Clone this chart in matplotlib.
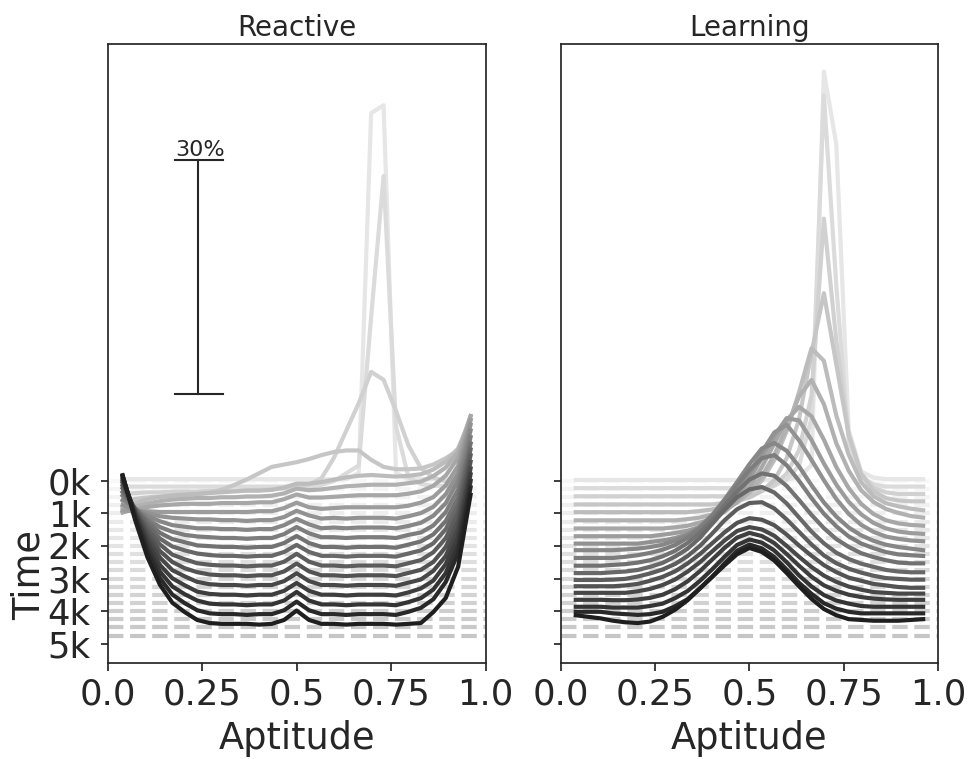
import numpy as np
import matplotlib as mpl
mpl.use('Agg')
import matplotlib.pyplot as plt

# aptitude bin centres and recorded time steps
aptitude = np.linspace(0.04, 0.96, 29)
steps = np.arange(0, 5000, 250)

# share of population (%) per aptitude bin, one row per time step
reactive_pct = [
    [0.2, 0.2, 0.2, 0.2, 0.2, 0.2, 0.2, 0.2, 0.2, 0.2, 0.2, 0.2, 0.2, 0.2, 0.2, 0.2, 0.2, 0.2, 0.2, 1.0, 47.0, 48.0, 1.0, 0.2, 0.2, 0.2, 0.2, 0.2, 0.2],
    [0.3, 0.3, 0.3, 0.3, 0.3, 0.3, 0.3, 0.3, 0.3, 0.3, 0.3, 0.3, 0.3, 0.3, 0.3, 0.3, 0.5, 1.0, 2.0, 3.0, 22.0, 40.0, 8.0, 1.5, 0.6, 0.4, 0.4, 0.4, 0.4],
    [0.4, 0.5, 0.6, 0.6, 0.7, 0.7, 0.7, 0.8, 0.8, 0.8, 0.9, 0.9, 1.0, 1.1, 1.3, 1.6, 2.4, 5.0, 8.5, 12.0, 16.0, 15.0, 11.0, 6.6, 3.7, 2.5, 2.0, 2.0, 2.0],
    [0.5, 0.8, 1.0, 1.1, 1.2, 1.3, 1.4, 1.6, 2.0, 2.6, 3.3, 4.1, 4.9, 5.2, 5.5, 5.9, 6.4, 6.8, 7.0, 7.0, 5.8, 4.9, 4.6, 4.6, 4.7, 5.2, 6.0, 7.0, 8.0],
    [0.6, 1.3, 1.8, 2.1, 2.3, 2.4, 2.5, 2.6, 2.7, 2.8, 2.9, 2.9, 3.0, 3.3, 3.8, 3.8, 4.0, 4.3, 4.6, 4.8, 4.9, 4.8, 4.7, 4.8, 5.0, 5.6, 6.6, 8.3, 12.0],
    [1.2, 1.9, 2.3, 2.6, 2.8, 2.9, 3.0, 3.0, 3.1, 3.1, 3.2, 3.2, 3.3, 3.6, 4.2, 4.0, 4.1, 4.3, 4.5, 4.6, 4.7, 4.7, 4.7, 4.9, 5.1, 5.8, 6.9, 8.9, 13.5],
    [2.2, 2.6, 2.9, 3.1, 3.2, 3.3, 3.3, 3.3, 3.4, 3.4, 3.4, 3.5, 3.5, 3.9, 4.5, 4.1, 4.1, 4.2, 4.3, 4.4, 4.4, 4.4, 4.4, 4.6, 4.9, 5.6, 6.9, 9.2, 14.5],
    [3.5, 3.4, 3.4, 3.3, 3.3, 3.3, 3.3, 3.3, 3.3, 3.3, 3.3, 3.4, 3.4, 3.8, 4.5, 3.9, 3.7, 3.8, 3.9, 3.9, 3.9, 3.9, 3.9, 4.1, 4.5, 5.2, 6.7, 9.2, 15.0],
    [5.2, 4.6, 4.2, 3.8, 3.6, 3.5, 3.4, 3.4, 3.3, 3.3, 3.2, 3.3, 3.3, 3.7, 4.5, 3.9, 3.5, 3.6, 3.5, 3.6, 3.6, 3.6, 3.5, 3.8, 4.2, 5.0, 6.6, 9.3, 15.5],
    [6.9, 5.8, 4.9, 4.2, 3.7, 3.5, 3.3, 3.3, 3.2, 3.2, 3.1, 3.2, 3.2, 3.7, 4.5, 3.8, 3.3, 3.4, 3.3, 3.4, 3.4, 3.4, 3.3, 3.6, 4.0, 4.9, 6.5, 9.4, 15.8],
    [8.5, 6.9, 5.5, 4.5, 3.9, 3.5, 3.3, 3.2, 3.1, 3.1, 3.0, 3.1, 3.1, 3.6, 4.5, 3.7, 3.2, 3.2, 3.1, 3.2, 3.2, 3.2, 3.1, 3.5, 3.8, 4.7, 6.4, 9.3, 16.0],
    [10.0, 7.9, 6.2, 4.8, 4.0, 3.6, 3.2, 3.1, 3.0, 3.0, 2.9, 3.0, 3.0, 3.5, 4.4, 3.5, 3.0, 3.0, 2.9, 3.0, 3.0, 3.0, 2.9, 3.3, 3.7, 4.6, 6.3, 9.3, 16.2],
    [11.5, 8.9, 6.8, 5.1, 4.1, 3.6, 3.2, 3.0, 2.9, 2.9, 2.8, 2.9, 2.9, 3.4, 4.3, 3.4, 2.9, 2.9, 2.8, 2.9, 2.9, 2.9, 2.8, 3.2, 3.6, 4.5, 6.3, 9.4, 16.5],
    [12.9, 9.8, 7.3, 5.4, 4.1, 3.5, 3.0, 2.8, 2.7, 2.7, 2.6, 2.7, 2.7, 3.2, 4.2, 3.2, 2.7, 2.7, 2.6, 2.7, 2.7, 2.7, 2.6, 3.0, 3.4, 4.4, 6.2, 9.5, 16.8],
    [14.3, 10.8, 7.8, 5.6, 4.2, 3.4, 2.9, 2.6, 2.5, 2.5, 2.4, 2.5, 2.5, 3.0, 4.0, 3.0, 2.5, 2.5, 2.4, 2.5, 2.5, 2.5, 2.4, 2.8, 3.2, 4.2, 6.1, 9.5, 17.0],
    [15.6, 11.6, 8.3, 5.8, 4.2, 3.4, 2.7, 2.4, 2.3, 2.3, 2.2, 2.3, 2.3, 2.8, 3.8, 2.8, 2.3, 2.3, 2.2, 2.3, 2.3, 2.3, 2.2, 2.6, 3.0, 4.1, 6.0, 9.5, 17.2],
    [16.9, 12.5, 8.8, 5.9, 4.2, 3.3, 2.5, 2.2, 2.1, 2.1, 2.0, 2.1, 2.1, 2.6, 3.6, 2.6, 2.1, 2.1, 2.0, 2.1, 2.1, 2.1, 2.0, 2.4, 2.9, 3.9, 6.0, 9.5, 17.5],
    [18.2, 13.3, 9.2, 6.1, 4.2, 3.2, 2.4, 2.0, 1.9, 1.9, 1.8, 1.9, 1.9, 2.4, 3.5, 2.4, 1.9, 1.9, 1.8, 1.9, 1.9, 1.9, 1.8, 2.2, 2.7, 3.8, 5.9, 9.5, 17.7],
    [19.4, 14.1, 9.7, 6.3, 4.2, 3.1, 2.2, 1.8, 1.7, 1.7, 1.6, 1.7, 1.7, 2.2, 3.3, 2.2, 1.7, 1.7, 1.6, 1.7, 1.7, 1.7, 1.6, 2.0, 2.5, 3.6, 5.8, 9.5, 17.9],
    [20.5, 14.8, 10.0, 6.5, 4.2, 3.0, 2.0, 1.6, 1.5, 1.5, 1.5, 1.4, 1.5, 2.0, 3.2, 2.0, 1.5, 1.5, 1.4, 1.5, 1.5, 1.5, 1.4, 1.5, 1.6, 3.0, 4.8, 8.8, 18.0],
]

learning_pct = [
    [0.1, 0.1, 0.1, 0.1, 0.1, 0.1, 0.1, 0.1, 0.1, 0.1, 0.1, 0.1, 0.1, 0.1, 0.1, 0.1, 0.1, 0.1, 0.5, 2.0, 52.3, 43.0, 6.5, 1.2, 0.4, 0.2, 0.2, 0.2, 0.2],
    [0.1, 0.1, 0.1, 0.1, 0.1, 0.1, 0.1, 0.1, 0.1, 0.1, 0.1, 0.1, 0.1, 0.1, 0.1, 0.1, 0.4, 1.2, 3.0, 9.0, 50.3, 26.0, 6.0, 1.5, 0.6, 0.3, 0.3, 0.3, 0.3],
    [0.1, 0.1, 0.1, 0.1, 0.1, 0.1, 0.1, 0.1, 0.1, 0.1, 0.1, 0.1, 0.1, 0.1, 0.4, 0.8, 1.5, 3.0, 6.0, 13.0, 35.6, 20.0, 8.0, 3.0, 1.2, 0.6, 0.4, 0.4, 0.4],
    [0.1, 0.1, 0.1, 0.1, 0.1, 0.1, 0.1, 0.1, 0.1, 0.1, 0.1, 0.1, 0.3, 0.5, 1.0, 1.8, 3.2, 6.0, 11.0, 19.5, 27.1, 18.0, 9.0, 4.0, 1.8, 0.9, 0.6, 0.5, 0.5],
    [0.15, 0.15, 0.15, 0.15, 0.15, 0.15, 0.15, 0.15, 0.15, 0.15, 0.3, 0.5, 0.9, 1.5, 2.6, 4.2, 6.8, 10.5, 15.5, 21.1, 19.5, 12.5, 7.5, 4.0, 2.2, 1.3, 0.9, 0.6, 0.4],
    [0.15, 0.15, 0.15, 0.15, 0.15, 0.15, 0.15, 0.15, 0.15, 0.3, 0.5, 0.9, 1.5, 2.4, 3.8, 5.8, 8.5, 12.0, 16.0, 18.1, 15.0, 10.0, 6.5, 4.0, 2.5, 1.6, 1.1, 0.7, 0.5],
    [0.15, 0.15, 0.15, 0.15, 0.15, 0.15, 0.15, 0.15, 0.3, 0.5, 0.9, 1.4, 2.3, 3.6, 5.5, 8.0, 11.0, 14.0, 15.7, 14.5, 11.5, 8.0, 5.3, 3.3, 2.0, 1.2, 0.8, 0.6, 0.5],
    [0.2, 0.2, 0.2, 0.2, 0.2, 0.2, 0.2, 0.4, 0.6, 0.9, 1.4, 2.2, 3.5, 5.2, 7.5, 10.2, 13.0, 15.3, 15.0, 12.5, 9.5, 6.8, 4.6, 3.0, 1.9, 1.2, 0.8, 0.6, 0.5],
    [0.3, 0.3, 0.3, 0.3, 0.3, 0.3, 0.5, 0.7, 1.0, 1.5, 2.2, 3.3, 4.8, 6.8, 9.2, 12.0, 14.5, 15.5, 13.5, 11.0, 8.4, 6.0, 4.1, 2.7, 1.8, 1.2, 0.9, 0.7, 0.6],
    [0.5, 0.5, 0.5, 0.5, 0.6, 0.7, 0.9, 1.2, 1.7, 2.4, 3.5, 5.0, 7.0, 9.2, 11.5, 13.5, 14.2, 13.2, 11.2, 8.8, 6.6, 4.8, 3.4, 2.4, 1.7, 1.2, 0.9, 0.7, 0.5],
    [0.55, 0.55, 0.55, 0.55, 0.7, 0.9, 1.2, 1.6, 2.2, 3.1, 4.3, 5.9, 7.8, 9.8, 11.8, 13.3, 13.7, 12.4, 10.4, 8.2, 6.2, 4.6, 3.3, 2.4, 1.8, 1.3, 1.0, 0.9, 0.8],
    [0.6, 0.6, 0.6, 0.7, 0.8, 1.0, 1.3, 1.8, 2.5, 3.5, 4.8, 6.4, 8.3, 10.1, 11.6, 12.4, 12.1, 10.8, 9.0, 7.1, 5.4, 4.0, 3.0, 2.2, 1.7, 1.3, 1.0, 0.9, 0.9],
    [0.7, 0.7, 0.7, 0.8, 0.9, 1.1, 1.5, 2.0, 2.8, 3.8, 5.2, 7.0, 8.8, 10.4, 11.4, 11.7, 11.0, 9.6, 7.8, 6.0, 4.5, 3.3, 2.5, 1.9, 1.5, 1.1, 0.9, 0.8, 0.8],
    [0.86, 0.86, 0.86, 0.9, 1.0, 1.3, 1.7, 2.2, 2.9, 3.9, 5.2, 6.8, 8.5, 9.9, 10.7, 10.8, 10.0, 8.6, 7.0, 5.4, 4.0, 3.0, 2.3, 1.8, 1.4, 1.1, 1.0, 0.9, 0.9],
    [1.1, 1.1, 1.1, 1.1, 1.2, 1.4, 1.8, 2.3, 3.0, 4.0, 5.2, 6.6, 8.0, 9.2, 9.8, 9.6, 8.9, 7.7, 6.3, 5.0, 3.8, 2.9, 2.2, 1.8, 1.4, 1.2, 1.0, 0.9, 0.9],
    [1.3, 1.3, 1.3, 1.3, 1.3, 1.5, 1.8, 2.3, 3.0, 4.0, 5.2, 6.6, 8.0, 9.2, 9.7, 9.4, 8.6, 7.3, 5.9, 4.6, 3.5, 2.7, 2.1, 1.7, 1.4, 1.3, 1.2, 1.2, 1.2],
    [1.45, 1.45, 1.45, 1.4, 1.4, 1.5, 1.7, 2.1, 2.8, 3.8, 5.1, 6.6, 8.1, 9.4, 10.0, 9.6, 8.7, 7.3, 5.8, 4.4, 3.3, 2.6, 2.1, 1.8, 1.6, 1.5, 1.45, 1.45, 1.45],
    [1.6, 1.6, 1.6, 1.5, 1.5, 1.5, 1.7, 2.0, 2.7, 3.6, 4.9, 6.4, 8.0, 9.5, 10.2, 9.8, 8.8, 7.3, 5.6, 4.2, 3.1, 2.4, 2.0, 1.7, 1.6, 1.6, 1.6, 1.6, 1.6],
    [2.0, 2.0, 2.0, 1.8, 1.7, 1.6, 1.7, 2.0, 2.7, 3.6, 5.0, 6.5, 8.2, 9.8, 10.6, 10.1, 9.0, 7.4, 5.7, 4.3, 3.1, 2.4, 2.0, 1.8, 1.8, 1.8, 1.8, 1.8, 1.8],
    [2.6, 2.4, 2.2, 1.9, 1.7, 1.6, 1.8, 2.4, 3.3, 4.5, 6.0, 7.5, 9.0, 10.4, 11.2, 10.7, 9.6, 8.0, 6.3, 4.7, 3.4, 2.6, 2.1, 2.0, 1.9, 1.9, 1.9, 2.0, 2.1],
]

scale = 240.0      # time units drawn per percent
bar_pct = 30
xticks = [0.0, 0.25, 0.5, 0.75, 1.0]
xticklabels = ['0.0', '0.25', '0.5', '0.75', '1.0']
yticks = [0, 1000, 2000, 3000, 4000, 5000]
yticklabels = ['0k', '1k', '2k', '3k', '4k', '5k']

ink = '#262626'
plt.rcParams['font.family'] = ['DejaVu Sans']
plt.rcParams['text.color'] = ink
plt.rcParams['axes.labelcolor'] = ink
plt.rcParams['xtick.color'] = ink
plt.rcParams['ytick.color'] = ink

fig = plt.figure(figsize=(9.8, 7.59), dpi=100)
ax1 = fig.add_axes([0.1097, 0.1261, 0.3859, 0.8155])
ax2 = fig.add_axes([0.5721, 0.1261, 0.3853, 0.8155])

n = len(steps)
for ax, data, title in [(ax1, reactive_pct, 'Reactive'), (ax2, learning_pct, 'Learning')]:
    greys = [0.9 - 0.78 * k / (n - 1) for k in range(n)]
    for t, g in zip(steps, greys):
        ax.axhline(t, color=(g, g, g), alpha=0.25, lw=3.0, ls='--', zorder=1)
    for t, g, row in zip(steps, greys, data):
        ax.plot(aptitude, t - scale * np.array(row), color=(g, g, g), lw=3.0, zorder=2)

    ax.set_xlim(0, 1)
    ax.set_ylim(5600, -13390)
    ax.set_xticks(xticks)
    ax.set_xticklabels(xticklabels)
    ax.set_yticks(yticks)
    ax.set_title(title, fontsize=20, pad=6)
    ax.set_xlabel('Aptitude', fontsize=26.5, labelpad=6)
    ax.tick_params(axis='x', length=6, width=1.25, labelsize=25.5, pad=4)
    ax.tick_params(axis='y', length=5, width=1.25, labelsize=25.5, pad=7)
    for s in ax.spines.values():
        s.set_linewidth(1.25)
        s.set_color(ink)

ax1.set_yticklabels(yticklabels)
ax2.set_yticklabels([])
ax1.set_ylabel('Time', fontsize=26.5)
ax1.yaxis.set_label_coords(-0.158, 0.143)

# scale bar
bar_bottom = -2650
bar_top = bar_bottom - bar_pct * scale
ax1.plot([0.24, 0.24], [bar_bottom, bar_top], color=ink, lw=1.5)
ax1.plot([0.179, 0.305], [bar_bottom, bar_bottom], color=ink, lw=1.5)
ax1.plot([0.179, 0.305], [bar_top, bar_top], color=ink, lw=1.5)
ax1.text(0.179, bar_top, '%d%%' % bar_pct, fontsize=16, ha='left', va='bottom')

fig.savefig('out.png', dpi=100)
